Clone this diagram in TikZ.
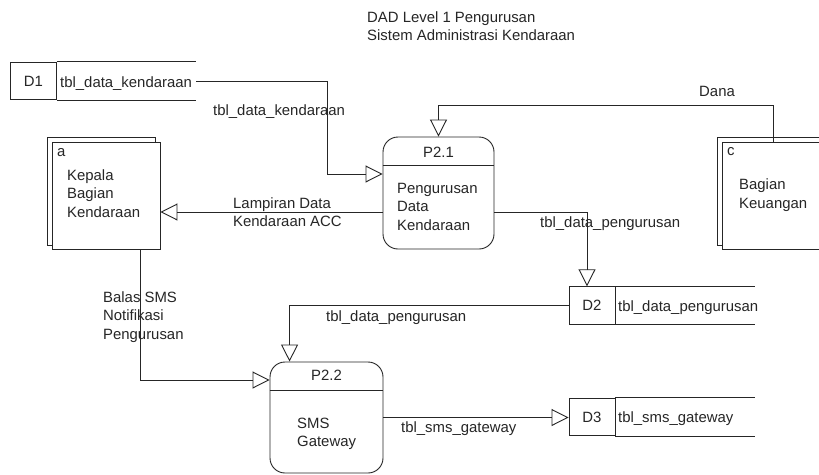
\documentclass[tikz,border=0pt]{standalone}
\usepackage{fontspec}
\setmainfont{Liberation Sans}
\usetikzlibrary{arrows.meta,calc}
\tikzset{
  line/.style={draw=black!85, line width=0.9pt},
  flow/.style={line, -{Triangle[open,length=17pt,width=17pt,line width=0.9pt]}},
  txt/.style={anchor=base west, inner sep=0, font=\fontsize{14.9}{18.5}\selectfont, text=black!85},
  proc/.style={line, rounded corners=15pt, inner sep=0},
  entbox/.style={line, fill=white, inner sep=0, minimum width=108pt, minimum height=107pt},
  dbox/.style={line, inner sep=0, minimum width=46pt, minimum height=37.5pt, font=\fontsize{14.9}{18.5}\selectfont, text=black!85},
}
\begin{document}
\begin{tikzpicture}[x=1pt,y=-1pt]
\clip (0,0) rectangle (819,474);
\fill[white] (0,0) rectangle (819,474);

% title
\node[txt] (t1) at (367,22) {DAD Level 1 Pengurusan};
\node[txt] (t2) at (367,40) {Sistem Administrasi Kendaraan};

% data store D1
\node[dbox] (D1) at (33.5,81) {D1};
\coordinate (D1e) at (196,81);
\draw[line] (D1.north east) -- (D1.north east -| D1e);
\draw[line] (D1.south east) -- (D1.south east -| D1e);
\node[txt] (D1t) at (60,87) {tbl\_data\_kendaraan};

% data store D2
\node[dbox] (D2) at (592,305.5) {D2};
\coordinate (D2e) at (755,305.5);
\draw[line] (D2.north east) -- (D2.north east -| D2e);
\draw[line] (D2.south east) -- (D2.south east -| D2e);
\node[txt] (D2t) at (618,311) {tbl\_data\_pengurusan};

% data store D3
\node[dbox] (D3) at (592,417) {D3};
\coordinate (D3e) at (755,417);
\draw[line] (D3.north east) -- (D3.north east -| D3e);
\draw[line] (D3.south east) -- (D3.south east -| D3e);
\node[txt] (D3t) at (618,422.5) {tbl\_sms\_gateway};

% external entity a
\draw[line, fill=white] (47,137) rectangle (155,245);
\node[entbox] (a) at (106,195.5) {};
\node[txt] (al) at (57,156) {a};
\node[txt] (a1) at (67,180) {Kepala};
\node[txt] (a2) at (67,198.5) {Bagian};
\node[txt] (a3) at (67,217) {Kendaraan};

% external entity c
\draw[line, fill=white] (717,137) rectangle (830,245);
\node[entbox, minimum width=113pt] (c) at (778.5,195.5) {};
\node[txt] (cl) at (727,155) {c};
\node[txt] (c1) at (739,189.5) {Bagian};
\node[txt] (c2) at (739,208) {Keuangan};

% process P2.1
\node[proc, minimum width=111pt, minimum height=112pt] (P21) at (438.5,193) {};
\draw[line] ([yshift=28pt]P21.west) -- ([yshift=28pt]P21.east);
\node[txt] (P21n) at (423,157) {P2.1};
\node[txt] (P21a) at (397,193) {Pengurusan};
\node[txt] (P21b) at (397,211.5) {Data};
\node[txt] (P21c) at (397,230) {Kendaraan};

% process P2.2
\node[proc, minimum width=113pt, minimum height=111pt] (P22) at (326.5,417.5) {};
\draw[line] ([yshift=27.5pt]P22.west) -- ([yshift=27.5pt]P22.east);
\node[txt] (P22n) at (311,380) {P2.2};
\node[txt] (P22a) at (297,428) {SMS};
\node[txt] (P22b) at (297,446.5) {Gateway};

% flows
\draw[flow] (D1e) -- (327,81) |- ([yshift=19pt]P21.west);
\node[txt] (f1) at (213,115) {tbl\_data\_kendaraan};

\coordinate (p21l) at ([yshift=-19pt]P21.west);
\draw[flow] (p21l) -- (p21l -| a.east);
\node[txt] (f2a) at (233,208) {Lampiran Data};
\node[txt] (f2b) at (233,226.5) {Kendaraan ACC};

\coordinate (cT) at ([xshift=-5.5pt]c.north);
\draw[flow] (cT) -- ++(0,-36) -| (P21.north);
\node[txt] (f3) at (699,96) {Dana};

\coordinate (p21r) at ([yshift=-19pt]P21.east);
\draw[flow] (p21r) -| ([xshift=-5pt]D2.north);
\node[txt] (f4) at (540,227) {tbl\_data\_pengurusan};

\draw[flow] (D2.west) -| ([xshift=20pt]P22.north west);
\node[txt] (f5) at (326,321) {tbl\_data\_pengurusan};

\draw[flow] ([xshift=34pt]a.south) |- ([yshift=37.5pt]P22.west);
\node[txt] (f6a) at (103,302) {Balas SMS};
\node[txt] (f6b) at (103,320.5) {Notifikasi};
\node[txt] (f6c) at (103,339) {Pengurusan};

\draw[flow] (P22.east) -- (P22.east -| D3.west);
\node[txt] (f7) at (401,432) {tbl\_sms\_gateway};
\end{tikzpicture}
\end{document}
